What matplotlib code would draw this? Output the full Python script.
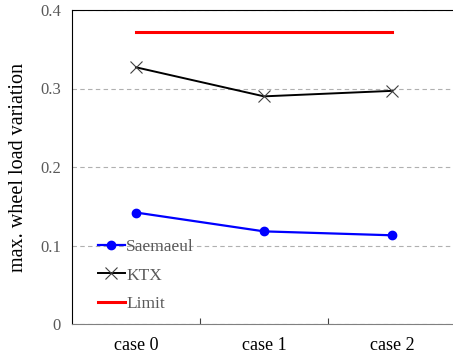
import matplotlib.pyplot as plt
import numpy as np

plt.rcParams['font.family'] = ['Liberation Serif', 'DejaVu Serif']

# data
cases = ['case 0', 'case 1', 'case 2']
saemaeul = [0.142, 0.118, 0.113]
ktx = [0.327, 0.290, 0.297]
limit = [0.372, 0.372, 0.372]

x = np.arange(len(cases))

fig = plt.figure(figsize=(4.53, 3.54), dpi=100)
# axes runs a little past the right edge, like in the picture
ax = fig.add_axes([72/453, 30/354, 384/453, 314/354])

ax.plot(x, saemaeul, color='#0000ff', lw=1.6, marker='o', ms=6, label='Saemaeul', zorder=3)
ax.plot(x, ktx, color='black', lw=1.4, marker='x', ms=8, mew=0.8, mec='#404040', label='KTX', zorder=3)
ax.plot(x, limit, color='#ff0000', lw=2.2, label='Limit', zorder=3)

ax.set_xlim(-0.5, 2.5)
ax.set_ylim(0, 0.4)
ax.set_yticks([0, 0.1, 0.2, 0.3, 0.4])
ax.set_yticklabels(['0', '0.1', '0.2', '0.3', '0.4'])
ax.yaxis.grid(True, ls=(0, (4, 3)), color='#b0b0b0', lw=0.8)
ax.set_axisbelow(True)

# category labels centred, ticks between categories
ax.set_xticks([0.5, 1.5])
ax.set_xticklabels([])
ax.set_xticks(x, minor=True)
ax.set_xticklabels(cases, minor=True)
ax.tick_params(axis='x', which='major', direction='in', length=4, color='#404040')
ax.tick_params(axis='x', which='minor', length=0, pad=9, labelsize=13)
ax.tick_params(axis='both', labelcolor='#595959')
ax.tick_params(axis='y', length=0, pad=8, labelsize=12)

ax.spines['right'].set_visible(False)
ax.spines['bottom'].set_color('#808080')
ax.set_ylabel('max. wheel load variation', fontsize=14.5, labelpad=9)

leg = ax.legend(loc='lower left', bbox_to_anchor=(0.035, 0.0), frameon=False,
                fontsize=12.5, handlelength=1.55, handletextpad=0.1, labelspacing=0.7,
                borderaxespad=0.3)
for t in leg.get_texts():
    t.set_color('#595959')

fig.savefig('out.png', dpi=100)
